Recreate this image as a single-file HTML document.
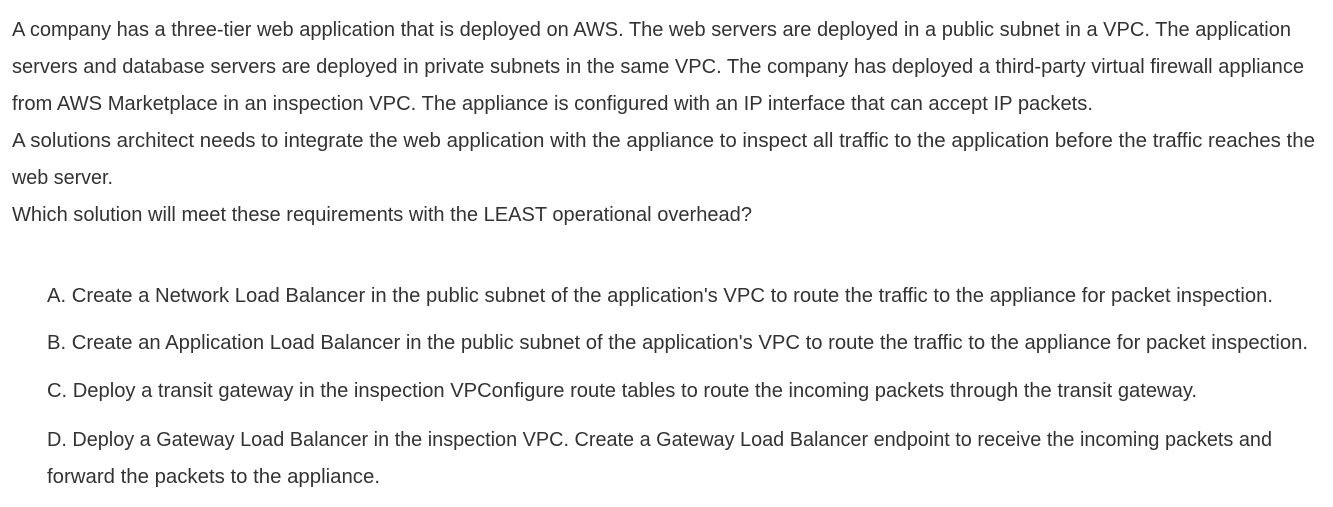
<!DOCTYPE html>
<html><head><meta charset="utf-8"><style>
html,body{margin:0;padding:0;background:#fff;width:1333px;height:507px;overflow:hidden}
text{font-family:"Liberation Sans",sans-serif;font-size:20px;fill:#333}
</style></head><body>
<svg width="1333" height="507" xmlns="http://www.w3.org/2000/svg">
<text x="12" y="36" textLength="1279" lengthAdjust="spacingAndGlyphs">A company has a three-tier web application that is deployed on AWS. The web servers are deployed in a public subnet in a VPC. The application</text>
<text x="12" y="73" textLength="1292" lengthAdjust="spacingAndGlyphs">servers and database servers are deployed in private subnets in the same VPC. The company has deployed a third-party virtual firewall appliance</text>
<text x="12" y="110" textLength="1081" lengthAdjust="spacingAndGlyphs">from AWS Marketplace in an inspection VPC. The appliance is configured with an IP interface that can accept IP packets.</text>
<text x="12" y="147" textLength="1303" lengthAdjust="spacingAndGlyphs">A solutions architect needs to integrate the web application with the appliance to inspect all traffic to the application before the traffic reaches the</text>
<text x="12" y="184" textLength="101" lengthAdjust="spacingAndGlyphs">web server.</text>
<text x="12" y="221" textLength="740" lengthAdjust="spacingAndGlyphs">Which solution will meet these requirements with the LEAST operational overhead?</text>
<text x="47" y="302" textLength="1226" lengthAdjust="spacingAndGlyphs">A. Create a Network Load Balancer in the public subnet of the application's VPC to route the traffic to the appliance for packet inspection.</text>
<text x="47" y="349" textLength="1261" lengthAdjust="spacingAndGlyphs">B. Create an Application Load Balancer in the public subnet of the application's VPC to route the traffic to the appliance for packet inspection.</text>
<text x="47" y="397" textLength="1150" lengthAdjust="spacingAndGlyphs">C. Deploy a transit gateway in the inspection VPConfigure route tables to route the incoming packets through the transit gateway.</text>
<text x="47" y="446" textLength="1225" lengthAdjust="spacingAndGlyphs">D. Deploy a Gateway Load Balancer in the inspection VPC. Create a Gateway Load Balancer endpoint to receive the incoming packets and</text>
<text x="47" y="483" textLength="333" lengthAdjust="spacingAndGlyphs">forward the packets to the appliance.</text>
</svg>
</body></html>
